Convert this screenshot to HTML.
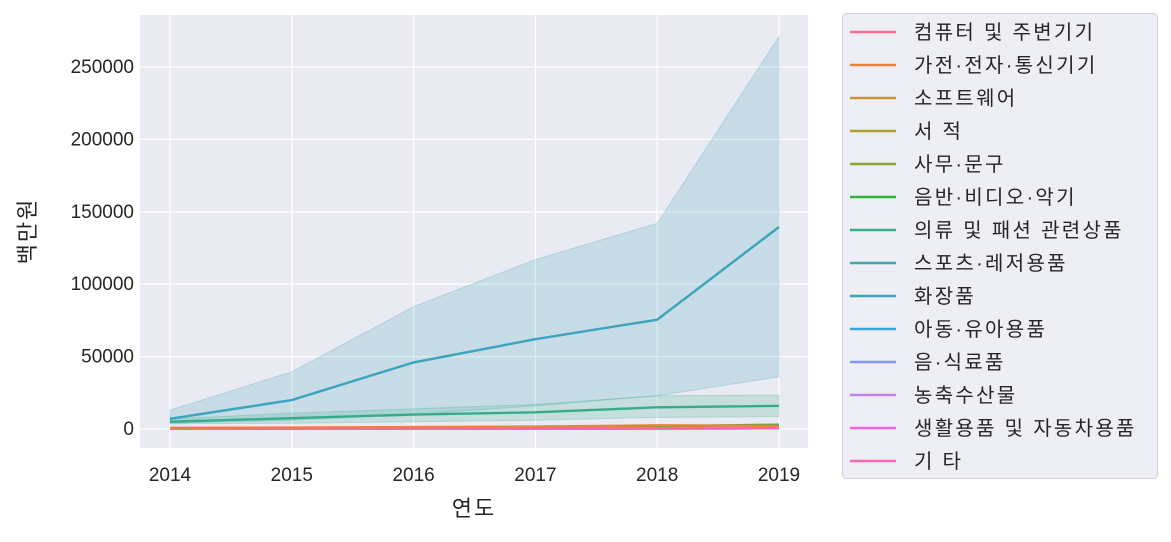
<!DOCTYPE html>
<html><head><meta charset="utf-8"><style>
body{margin:0;background:#fff;}
svg text{font-family:"Liberation Sans","Noto Sans CJK KR",sans-serif;fill:#262626;}
</style></head><body>
<svg id="chart" width="1171" height="537" viewBox="0 0 1171 537" xmlns="http://www.w3.org/2000/svg">
<rect x="140" y="15" width="668" height="433" fill="#eaeaf2"/>
<g id="grid"></g><g id="bands"></g><g id="lines"></g><g id="axes"></g><g id="legend"></g>
</svg>
<script>
const years=[2014,2015,2016,2017,2018,2019];
const yTicks=[0,50000,100000,150000,200000,250000];
const categories=["컴퓨터 및 주변기기","가전·전자·통신기기","소프트웨어","서 적","사무·문구","음반·비디오·악기","의류 및 패션 관련상품","스포츠·레저용품","화장품","아동·유아용품","음·식료품","농축수산물","생활용품 및 자동차용품","기 타"];
const colors=["#f77189","#e9823a","#c6963a","#ae9d31","#8aa631","#33b03b","#36ad8a","#38aaac","#3aa5bc","#3ba3d8","#8197f4","#c17ff1","#f066e6","#f668b5"];
const cosmetics=[7000,20000,46000,62000,75500,139500];
const cosmeticsLo=[4000,6000,10000,16000,23000,36000];
const cosmeticsHi=[13000,39500,84500,117000,142000,271000];
const clothing=[5000,7500,10000,11500,15000,16000];
const clothingLo=[3500,4000,5000,6000,8000,8500];
const clothingHi=[7000,11000,14000,17000,23000,23500];
const electronics=[800,1000,1300,1700,2500,2200];
const music=[300,400,600,900,1800,3000];
const small=[200,250,300,350,400,450];
const NS="http://www.w3.org/2000/svg";
function X(y){return 170+(y-2014)*(779-170)/5;}
function Y(v){return 429-v*(429-67)/250000;}
function mk(tag,attrs,parent){const e=document.createElementNS(NS,tag);for(const k in attrs)e.setAttribute(k,attrs[k]);document.getElementById(parent).appendChild(e);return e;}
years.forEach(y=>{const l=mk('line',{x1:X(y),x2:X(y),y1:15,y2:448,stroke:'#fff','stroke-width':1.3},'grid');


const t=mk('text',{x:X(y),y:481,'text-anchor':'middle','font-size':19},'axes');t.textContent=y;

});
yTicks.forEach(v=>{const l=mk('line',{x1:140,x2:808,y1:Y(v),y2:Y(v),stroke:'#fff','stroke-width':1.3},'grid');


const t=mk('text',{x:134,y:Y(v)+6,'text-anchor':'end','font-size':19},'axes');t.textContent=v;

});
function band(lo,hi,c,name){const pts=years.map((y,i)=>X(y)+','+Y(hi[i])).concat(years.slice().reverse().map((y,i)=>X(y)+','+Y(lo[5-i])));
const p=mk('polygon',{points:pts.join(' '),fill:c,'fill-opacity':0.2,stroke:c,'stroke-opacity':0.25},'bands');

}
band(cosmeticsLo,cosmeticsHi,colors[8],'cosmetics-ci-band');
band(clothingLo,clothingHi,colors[6],'clothing-ci-band');
function line(vals,c,name){const p=mk('polyline',{points:years.map((y,i)=>X(y)+','+Y(vals[i])).join(' '),fill:'none',stroke:c,'stroke-width':2.4},'lines');

}
[0,2,3,4,5,7,9,10,11,12,13].forEach(i=>line(i==5?music:small,colors[i],'series-line'));
line(electronics,colors[1],'electronics-line');
line(clothing,colors[6],'clothing-line');
line(cosmetics,colors[8],'cosmetics-line');
const xt=mk('text',{x:474,y:516,'text-anchor':'middle','font-size':22,'letter-spacing':2},'axes');xt.textContent='연도';


const yt=mk('text',{x:0,y:0,'text-anchor':'middle','font-size':22,'letter-spacing':2,transform:'translate(35,231) rotate(-90)'},'axes');yt.textContent='백만원';


const lb=mk('rect',{x:842.5,y:13.5,width:315,height:465,rx:4,fill:'#eaeaf2','fill-opacity':0.8,stroke:'#d0d0d8'},'legend');


categories.forEach((c,i)=>{const y=32+i*33;
const l=mk('line',{x1:850,x2:896,y1:y,y2:y,stroke:colors[i],'stroke-width':2.4},'legend');


const t=mk('text',{x:914,y:y+7,'font-size':20,'letter-spacing':2.3},'legend');t.textContent=c;

});
</script>
</body></html>
